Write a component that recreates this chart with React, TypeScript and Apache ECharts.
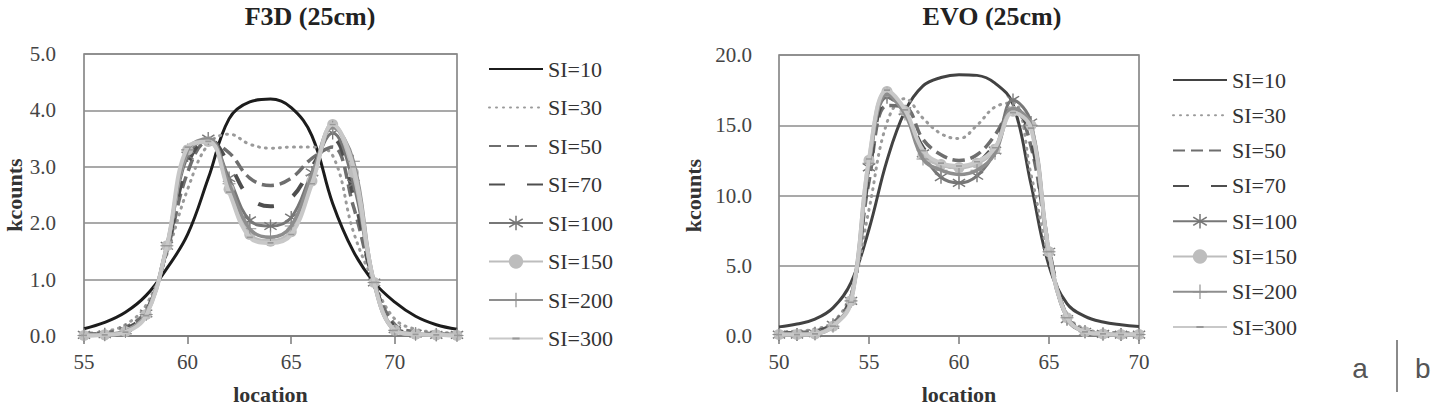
import React, { useEffect, useRef } from "react";
import * as echarts from "echarts";

// ---------- data ----------
const seriesNames = ["SI=10", "SI=30", "SI=50", "SI=70", "SI=100", "SI=150", "SI=200", "SI=300"];

const f3dTitle = "F3D (25cm)";
const evoTitle = "EVO (25cm)";
const yName = "kcounts";
const xName = "location";

const f3dLocation = [55, 56, 57, 58, 59, 60, 61, 62, 63, 64, 65, 66, 67, 68, 69, 70, 71, 72, 73];
const f3dSI10 = [0.13, 0.24, 0.42, 0.72, 1.2, 1.8, 2.8, 3.85, 4.15, 4.2, 4.05, 3.55, 2.35, 1.5, 0.95, 0.6, 0.35, 0.2, 0.12];
const f3dSI30 = [0.05, 0.08, 0.2, 0.55, 1.45, 2.6, 3.4, 3.58, 3.4, 3.33, 3.35, 3.35, 3.2, 1.85, 0.95, 0.3, 0.12, 0.07, 0.05];
const f3dSI50 = [0.03, 0.05, 0.15, 0.45, 1.5, 2.9, 3.45, 3.25, 2.8, 2.67, 2.8, 3.15, 3.35, 2.3, 0.95, 0.2, 0.07, 0.04, 0.03];
const f3dSI70 = [0.02, 0.04, 0.12, 0.42, 1.55, 3.05, 3.5, 3.05, 2.45, 2.3, 2.45, 3.0, 3.5, 2.5, 0.95, 0.15, 0.05, 0.03, 0.02];
const f3dSI100 = [0.02, 0.03, 0.1, 0.4, 1.6, 3.2, 3.5, 2.8, 2.05, 1.95, 2.1, 2.9, 3.6, 2.7, 0.95, 0.12, 0.04, 0.02, 0.02];
const f3dSI150 = [0.01, 0.02, 0.08, 0.38, 1.6, 3.3, 3.45, 2.6, 1.8, 1.68, 1.85, 2.75, 3.75, 2.9, 0.95, 0.1, 0.03, 0.02, 0.01];
const f3dSI200 = [0.01, 0.02, 0.08, 0.38, 1.6, 3.3, 3.5, 2.7, 1.9, 1.75, 1.95, 2.85, 3.7, 3.1, 0.95, 0.1, 0.03, 0.02, 0.01];
const f3dSI300 = [0.01, 0.02, 0.07, 0.36, 1.6, 3.35, 3.45, 2.55, 1.75, 1.65, 1.8, 2.7, 3.75, 3.0, 0.95, 0.1, 0.03, 0.02, 0.01];

const evoLocation = [50, 51, 52, 53, 54, 55, 56, 57, 58, 59, 60, 61, 62, 63, 64, 65, 66, 67, 68, 69, 70];
const evoSI10 = [0.65, 0.85, 1.2, 2.0, 3.8, 7.6, 12.5, 16.0, 17.8, 18.4, 18.6, 18.55, 18.0, 16.5, 10.8, 5.0, 2.3, 1.4, 1.0, 0.8, 0.67];
const evoSI30 = [0.3, 0.35, 0.5, 1.0, 3.0, 9.0, 15.2, 16.9, 15.5, 14.4, 14.05, 15.0, 16.3, 16.6, 11.5, 5.5, 1.5, 0.5, 0.3, 0.25, 0.25];
const evoSI50 = [0.2, 0.25, 0.35, 0.9, 2.8, 11.0, 16.4, 16.3, 14.0, 12.9, 12.5, 12.9, 14.3, 16.3, 13.5, 6.2, 1.4, 0.4, 0.2, 0.15, 0.15];
const evoSI70 = [0.15, 0.2, 0.3, 0.85, 2.7, 11.5, 16.8, 16.1, 13.4, 12.3, 12.0, 12.3, 13.7, 16.4, 14.0, 6.2, 1.3, 0.35, 0.2, 0.15, 0.1];
const evoSI100 = [0.1, 0.1, 0.2, 0.8, 2.5, 12.0, 17.0, 16.0, 13.0, 11.3, 10.9, 11.4, 13.2, 16.8, 15.2, 6.0, 1.2, 0.3, 0.15, 0.1, 0.1];
const evoSI150 = [0.1, 0.1, 0.15, 0.7, 2.5, 12.5, 17.4, 16.0, 12.9, 12.2, 12.0, 12.3, 13.3, 16.0, 15.0, 6.0, 1.3, 0.3, 0.15, 0.1, 0.1];
const evoSI200 = [0.1, 0.1, 0.15, 0.7, 2.5, 12.3, 17.2, 15.8, 12.6, 11.8, 11.5, 11.8, 13.0, 16.2, 15.0, 6.0, 1.3, 0.3, 0.15, 0.1, 0.1];
const evoSI300 = [0.1, 0.1, 0.15, 0.7, 2.4, 12.6, 17.5, 16.1, 13.2, 12.3, 12.1, 12.4, 13.4, 15.9, 14.8, 6.0, 1.3, 0.3, 0.15, 0.1, 0.1];

const f3dValues = [f3dSI10, f3dSI30, f3dSI50, f3dSI70, f3dSI100, f3dSI150, f3dSI200, f3dSI300];
const evoValues = [evoSI10, evoSI30, evoSI50, evoSI70, evoSI100, evoSI150, evoSI200, evoSI300];

// ---------- styles ----------
const SERIF = "Liberation Serif";
const STAR =
  "path://M4.5,0 L5.5,0 L5.5,10 L4.5,10 Z M0.2,2.6 L0.8,1.7 L9.8,7.4 L9.2,8.3 Z M9.2,1.7 L9.8,2.6 L0.8,8.3 L0.2,7.4 Z";
const PLUS = "path://M4.6,0 L5.4,0 L5.4,10 L4.6,10 Z M0,4.6 L10,4.6 L10,5.4 L0,5.4 Z";
// tiny corner specks keep the bounding box square so the dash is not stretched
const DASH = "path://M0,0 L0.01,0 L0,0.01 Z M10,10 L9.99,10 L10,9.99 Z M2.5,4.3 L7.5,4.3 L7.5,5.7 L2.5,5.7 Z";

type St = {
  color: string;
  width: number;
  type: any;
  cap?: string;
  symbol: string;
  size?: number;
  markColor?: string;
};

function makeStyles(firstColor: string): St[] {
  return [
    { color: firstColor, width: 3, type: "solid", symbol: "none" },
    { color: "#9a9a9a", width: 3, type: [1, 6], cap: "round", symbol: "none" },
    { color: "#6e6e6e", width: 3.5, type: [12, 6], symbol: "none" },
    { color: "#4e4e4e", width: 4, type: [16, 22], symbol: "none" },
    { color: "#777777", width: 3, type: "solid", symbol: STAR, size: 13 },
    { color: "#bdbdbd", width: 4, type: "solid", symbol: "circle", size: 11 },
    { color: "#8e8e8e", width: 3.5, type: "solid", symbol: PLUS, size: 13 },
    { color: "#c8c8c8", width: 4, type: "solid", symbol: DASH, size: 12, markColor: "#999999" },
  ];
}

function buildSeries(xs: number[], values: number[][], styles: St[]) {
  return values.map((ys, i) => {
    const s = styles[i];
    return {
      type: "line",
      name: seriesNames[i],
      data: xs.map((x, k) => [x, ys[k]]),
      smooth: 0.4,
      symbol: s.symbol,
      symbolSize: s.size || 0,
      showSymbol: s.symbol !== "none",
      lineStyle: { color: s.color, width: s.width, type: s.type, cap: s.cap || "butt" },
      itemStyle: { color: s.markColor || s.color },
      z: 2 + i,
    };
  });
}

type ChartCfg = {
  title: string;
  titleX: number;
  grid: { left: number; top: number; width: number; height: number };
  xMin: number;
  xMax: number;
  yMax: number;
  yInterval: number;
  yLabelMargin: number;
  yNameGap: number;
  legendLeft: number;
  legendTop: number;
  legendGap: number;
  xs: number[];
  values: number[][];
  firstColor: string;
  extra?: any[];
};

function buildOption(c: ChartCfg) {
  const styles = makeStyles(c.firstColor);
  return {
    animation: false,
    backgroundColor: "#ffffff",
    textStyle: { fontFamily: SERIF },
    grid: {
      ...c.grid,
      containLabel: false,
      outerBoundsMode: "none",
      show: true,
      borderColor: "#7a7a7a",
      borderWidth: 1.5,
      backgroundColor: "transparent",
    },
    xAxis: {
      type: "value",
      min: c.xMin,
      max: c.xMax,
      interval: 5,
      name: xName,
      nameLocation: "middle",
      nameGap: 47,
      nameMoveOverlap: false,
      nameTextStyle: { fontFamily: SERIF, fontWeight: "bold", fontSize: 22, color: "#333" },
      axisLine: { show: true, lineStyle: { color: "#7a7a7a", width: 1.5 } },
      axisTick: { show: true, length: 8, lineStyle: { color: "#7a7a7a", width: 1.5 } },
      axisLabel: {
        showMaxLabel: c.xMax % 5 === 0,
        margin: 15,
        fontFamily: SERIF,
        fontSize: 21,
        color: "#444",
      },
      splitLine: { show: false },
    },
    yAxis: {
      type: "value",
      min: 0,
      max: c.yMax,
      interval: c.yInterval,
      name: yName,
      nameLocation: "middle",
      nameGap: c.yNameGap,
      nameMoveOverlap: false,
      nameTextStyle: { fontFamily: SERIF, fontWeight: "bold", fontSize: 22, color: "#333" },
      axisLine: { show: false },
      axisTick: { show: false },
      axisLabel: {
        margin: c.yLabelMargin,
        fontFamily: SERIF,
        fontSize: 21,
        color: "#444",
        formatter: (v: number) => v.toFixed(1),
      },
      splitLine: { show: true, lineStyle: { color: "#8c8c8c", width: 1.5 } },
    },
    legend: {
      orient: "vertical",
      left: c.legendLeft,
      top: c.legendTop,
      padding: 0,
      itemWidth: 54,
      itemHeight: 18,
      itemGap: c.legendGap,
      selectedMode: false,
      data: seriesNames.map((n, i) =>
        styles[i].symbol === "none"
          ? { name: n, itemStyle: { color: "rgba(0,0,0,0)", opacity: 0, borderWidth: 0 } }
          : { name: n }
      ),
      textStyle: { fontFamily: SERIF, fontSize: 22, color: "#333" },
    },
    graphic: [
      {
        type: "text",
        x: c.titleX,
        y: 16,
        style: {
          text: c.title,
          align: "center",
          verticalAlign: "middle",
          font: `bold 26px ${SERIF}`,
          fill: "#222",
        },
      },
      ...(c.extra || []),
    ],
    series: buildSeries(c.xs, c.values, styles),
  };
}

function Chart({ cfg, style }: { cfg: ChartCfg; style: React.CSSProperties }) {
  const ref = useRef<HTMLDivElement>(null);
  useEffect(() => {
    if (!ref.current) return;
    const chart = echarts.init(ref.current, null, { renderer: "svg" });
    chart.setOption(buildOption(cfg) as any);
    return () => chart.dispose();
  }, []);
  return <div ref={ref} style={style} />;
}

const leftCfg: ChartCfg = {
  title: f3dTitle,
  titleX: 310,
  grid: { left: 84, top: 54, width: 373, height: 282 },
  xMin: 55,
  xMax: 73,
  yMax: 5,
  yInterval: 1,
  yLabelMargin: 28,
  yNameGap: 59,
  legendLeft: 488,
  legendTop: 58,
  legendGap: 16.5,
  xs: f3dLocation,
  values: f3dValues,
  firstColor: "#1c1c1c",
};

const rightCfg: ChartCfg = {
  title: evoTitle,
  titleX: 332,
  grid: { left: 119, top: 55, width: 360, height: 281 },
  xMin: 50,
  xMax: 70,
  yMax: 20,
  yInterval: 5,
  yLabelMargin: 27,
  yNameGap: 75,
  legendLeft: 512,
  legendTop: 69,
  legendGap: 13.3,
  xs: evoLocation,
  values: evoValues,
  firstColor: "#424242",
  extra: [
    {
      type: "text",
      x: 700,
      y: 368,
      style: {
        text: "a",
        align: "center",
        verticalAlign: "middle",
        font: "28px 'Liberation Sans', Arial, sans-serif",
        fill: "#555",
      },
    },
    {
      type: "line",
      shape: { x1: 737, y1: 340, x2: 737, y2: 392 },
      style: { stroke: "#8a8a8a", lineWidth: 2 },
    },
    {
      type: "text",
      x: 755,
      y: 368,
      style: {
        text: "b",
        align: "left",
        verticalAlign: "middle",
        font: "28px 'Liberation Sans', Arial, sans-serif",
        fill: "#555",
      },
    },
  ],
};

export default function App() {
  return (
    <div style={{ position: "absolute", left: 0, top: 0, width: 1433, height: 406, background: "#fff", overflow: "hidden" }}>
      <Chart cfg={leftCfg} style={{ position: "absolute", left: 0, top: 0, width: 660, height: 406 }} />
      <Chart cfg={rightCfg} style={{ position: "absolute", left: 660, top: 0, width: 773, height: 406 }} />
    </div>
  );
}
